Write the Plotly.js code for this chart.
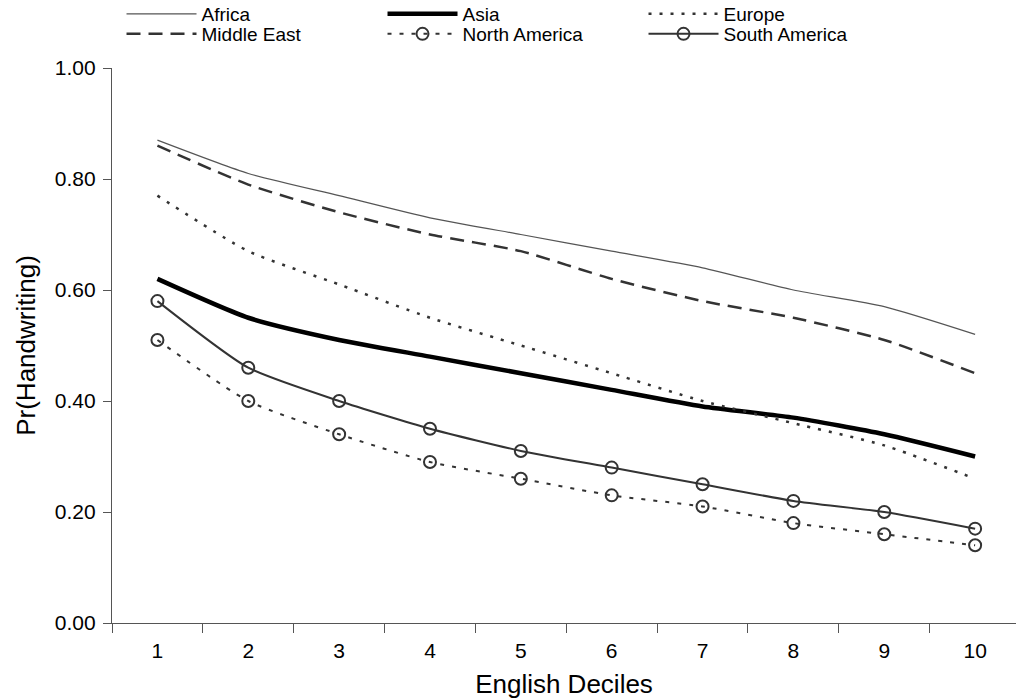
<!DOCTYPE html>
<html>
<head>
<meta charset="utf-8">
<script src="https://cdn.plot.ly/plotly-3.0.1.min.js"></script>
<style>html,body{margin:0;padding:0;background:#fff;}#chart{width:1016px;height:700px;}</style>
</head>
<body>
<div id="chart"></div>
<script>
const deciles = ["1","2","3","4","5","6","7","8","9","10"];
const africa = [0.87,0.81,0.77,0.73,0.70,0.67,0.64,0.60,0.57,0.52];
const middleEast = [0.86,0.79,0.74,0.70,0.67,0.62,0.58,0.55,0.51,0.45];
const europe = [0.77,0.67,0.61,0.55,0.50,0.45,0.40,0.36,0.32,0.26];
const asia = [0.62,0.55,0.51,0.48,0.45,0.42,0.39,0.37,0.34,0.30];
const southAmerica = [0.58,0.46,0.40,0.35,0.31,0.28,0.25,0.22,0.20,0.17];
const northAmerica = [0.51,0.40,0.34,0.29,0.26,0.23,0.21,0.18,0.16,0.14];
const yTicks = [0,0.2,0.4,0.6,0.8,1.0];

const sm = 0.6;
const traces = [
  {name:"Africa", x:deciles, y:africa, mode:"lines", legend:"legend",
   line:{color:"#555", width:1.2, shape:"spline", smoothing:sm}},
  {name:"Middle East", x:deciles, y:middleEast, mode:"lines", legend:"legend2",
   line:{color:"#333", width:2.5, dash:"14px,8px", shape:"spline", smoothing:sm}},
  {name:"Asia", x:deciles, y:asia, mode:"lines", legend:"legend",
   line:{color:"#000", width:4.5, shape:"spline", smoothing:sm}},
  {name:"North America", x:deciles, y:northAmerica, mode:"lines+markers", legend:"legend2",
   line:{color:"#333", width:2, dash:"4px,8px", shape:"spline", smoothing:sm},
   marker:{symbol:"circle-open", size:12, color:"#333", line:{width:2, color:"#333"}}},
  {name:"Europe", x:deciles, y:europe, mode:"lines", legend:"legend",
   line:{color:"#333", width:2.5, dash:"3px,8px", shape:"spline", smoothing:sm}},
  {name:"South America", x:deciles, y:southAmerica, mode:"lines+markers", legend:"legend2",
   line:{color:"#333", width:2, shape:"spline", smoothing:sm},
   marker:{symbol:"circle-open", size:12, color:"#333", line:{width:2, color:"#333"}}}
];

const legendBase = {
  orientation:"h", xref:"container", yref:"container", xanchor:"left", yanchor:"middle",
  entrywidth:176, entrywidthmode:"pixels", itemwidth:70,
  font:{family:"Liberation Sans, Arial, sans-serif", size:19, color:"#000"},
  bgcolor:"rgba(0,0,0,0)", borderwidth:0, traceorder:"normal", itemclick:false
};

const layout = {
  width:1016, height:700,
  margin:{l:112, r:0, t:68, b:77},
  paper_bgcolor:"#fff", plot_bgcolor:"#fff",
  font:{family:"Liberation Sans, Arial, sans-serif", color:"#000"},
  showlegend:true,
  legend:Object.assign({}, legendBase, {x:0.1196, y:0.9800}),
  legend2:Object.assign({}, legendBase, {x:0.1196, y:0.9514}),
  xaxis:{
    type:"category", range:[-0.5, 9.45], tickson:"boundaries",
    ticks:"outside", ticklen:9, tickcolor:"#555", tickwidth:1,
    showline:true, linecolor:"#555", linewidth:1.2, showgrid:false, zeroline:false,
    tickfont:{size:21}, ticklabelstandoff:9,
    title:{text:"English Deciles", font:{size:26}, standoff:13}
  },
  yaxis:{
    range:[0,1], tickvals:yTicks, tickformat:".2f",
    ticks:"outside", ticklen:8, tickcolor:"#555", tickwidth:1,
    showline:true, linecolor:"#555", linewidth:1.2, showgrid:false, zeroline:false,
    tickfont:{size:21}, ticklabelstandoff:3,
    title:{text:"Pr(Handwriting)", font:{size:26}, standoff:11}
  }
};

Plotly.newPlot("chart", traces, layout, {staticPlot:true, displayModeBar:false});
</script>
</body>
</html>
